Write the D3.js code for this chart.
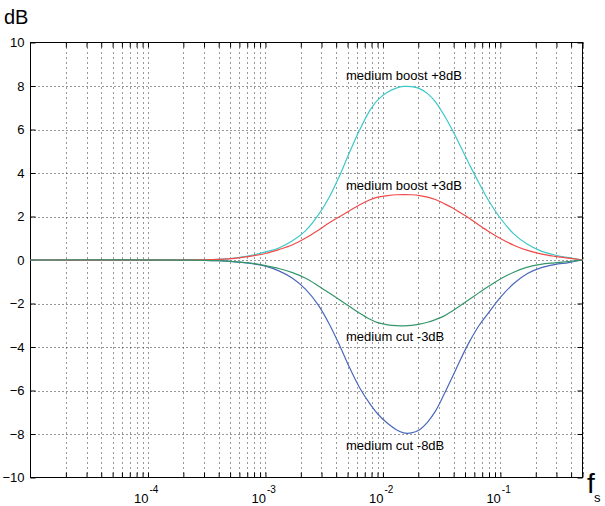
<!DOCTYPE html>
<html><head><meta charset="utf-8">
<script src="https://cdn.jsdelivr.net/npm/d3@7"></script>
<style>
html,body{margin:0;padding:0;background:#fff;}
svg{display:block;}
text{font-family:"Liberation Sans",Arial,Helvetica,sans-serif;fill:#000;}
</style></head>
<body>
<svg id="chart" width="605" height="506"></svg>
<script>
// ---- data ----
const freq = [1e-5, 4e-4, 6e-4, 8e-4, 1e-3, 1.3e-3, 1.7e-3, 2.2e-3, 2.8e-3, 3.5e-3, 4.3e-3, 5.2e-3, 6.3e-3, 7.6e-3, 9e-3, 1.1e-2, 1.3e-2, 1.5e-2, 1.75e-2, 2.05e-2, 2.4e-2, 2.8e-2, 3.3e-2, 3.9e-2, 4.6e-2, 5.5e-2, 6.6e-2, 8e-2, 0.1, 0.13, 0.17, 0.22, 0.29, 0.38, 0.5];
const boost8 = [0, 0.03, 0.12, 0.24, 0.37, 0.55, 0.88, 1.35, 2.05, 2.9, 3.9, 4.95, 5.95, 6.8, 7.35, 7.72, 7.9, 7.98, 7.97, 7.88, 7.65, 7.27, 6.68, 5.98, 5.2, 4.35, 3.52, 2.7, 1.92, 1.2, 0.72, 0.42, 0.23, 0.11, 0];
const boost3 = [0, 0.03, 0.1, 0.2, 0.3, 0.48, 0.7, 1.01, 1.36, 1.71, 2.0, 2.26, 2.53, 2.75, 2.89, 2.96, 3.0, 3.01, 3.0, 2.96, 2.89, 2.78, 2.6, 2.4, 2.16, 1.9, 1.6, 1.3, 0.99, 0.68, 0.44, 0.28, 0.17, 0.09, 0];
const cut3 = [0, -0.03, -0.1, -0.17, -0.26, -0.39, -0.58, -0.84, -1.18, -1.52, -1.84, -2.14, -2.44, -2.7, -2.88, -2.98, -3.02, -3.03, -3.01, -2.95, -2.86, -2.74, -2.58, -2.34, -2.08, -1.79, -1.5, -1.2, -0.87, -0.56, -0.33, -0.2, -0.13, -0.07, 0];
const cut8 = [0, -0.03, -0.1, -0.18, -0.28, -0.5, -0.84, -1.35, -2.05, -2.95, -3.95, -4.95, -5.85, -6.55, -7.07, -7.52, -7.8, -7.95, -7.95, -7.8, -7.45, -6.95, -6.2, -5.38, -4.55, -3.72, -3.0, -2.4, -1.72, -1.08, -0.62, -0.36, -0.21, -0.12, 0];
const seriesNames = ["medium cut -8dB", "medium boost +8dB", "medium boost +3dB", "medium cut -3dB"];
const seriesValues = [cut8, boost8, boost3, cut3];
const seriesColors = ["#4a68bb", "#3cc8c8", "#f04a4a", "#35966a"];
const yTicks = [-10, -8, -6, -4, -2, 0, 2, 4, 6, 8, 10];
const xMajor = [1e-4, 1e-3, 1e-2, 1e-1];
const xMajorExp = ["-4", "-3", "-2", "-1"];
const xMinorMult = [2, 3, 4, 5, 6, 7, 8, 9];
const xDecades = [1e-5, 1e-4, 1e-3, 1e-2, 1e-1];
const labelTexts = ["medium boost +8dB", "medium boost +3dB", "medium cut -3dB", "medium cut -8dB"];
const labelAnchorsDb = [8.28, 3.22, -3.72, -8.74];
const labelFreq = 4.85e-3;

// ---- layout ----
const L = 30.5, R = 582.5, T = 42.5, B = 477.5;
const svg = d3.select("#chart");
const x = d3.scaleLog().domain([1e-5, 0.5]).range([L, R]);
const y = d3.scaleLinear().domain([-10, 10]).range([B, T]);

let xTickVals = [];
xDecades.forEach(d => xMinorMult.forEach(m => { const v = d * m; if (v <= 0.5 + 1e-12) xTickVals.push(v); }));
xTickVals = xTickVals.concat(xMajor).sort((a, b) => a - b);

// grid
const grid = svg.append("g").attr("stroke", "#333").attr("stroke-width", 1);
xTickVals.forEach(v => {
  const px = Math.round(x(v)) + 0.5;
  grid.append("line").attr("x1", px).attr("x2", px).attr("y1", T).attr("y2", B)
    .attr("stroke-dasharray", "1,4");
});
yTicks.slice(1, -1).forEach(v => {
  const py = Math.round(y(v)) + 0.5;
  grid.append("line").attr("x1", L).attr("x2", R).attr("y1", py).attr("y2", py)
    .attr("stroke-dasharray", "1,3");
});

// axes (ticks inward on all four sides)
const fmtX = v => "";
const axB = svg.append("g").attr("transform", `translate(0,${B})`)
  .call(d3.axisBottom(x).tickValues(xTickVals).tickSizeInner(-5).tickSizeOuter(0).tickFormat(fmtX));
const axT = svg.append("g").attr("transform", `translate(0,${T})`)
  .call(d3.axisTop(x).tickValues(xTickVals).tickSizeInner(-5).tickSizeOuter(0).tickFormat(fmtX));
const axL = svg.append("g").attr("transform", `translate(${L},0)`)
  .call(d3.axisLeft(y).tickValues(yTicks).tickSizeInner(-5).tickSizeOuter(0).tickPadding(6).tickFormat(d3.format("d")));
const axR = svg.append("g").attr("transform", `translate(${R},0)`)
  .call(d3.axisRight(y).tickValues(yTicks).tickSizeInner(-5).tickSizeOuter(0).tickFormat(""));
[axB, axT, axL, axR].forEach(a => {
  a.select(".domain").remove();
  a.selectAll("line").attr("stroke", "#000");
});
axL.selectAll("text").attr("font-size", 13).attr("x", -6)
  .attr("font-family", "'Liberation Sans',Arial,sans-serif").attr("fill", "#000");

// x major labels with superscripts
xMajor.forEach((v, i) => {
  const t = svg.append("text").attr("x", x(v) - 14).attr("y", 503).attr("font-size", 13);
  t.append("tspan").text("10");
  t.append("tspan").attr("dy", -10).attr("dx", 1).attr("font-size", 10).text(xMajorExp[i]);
});

// frame
svg.append("rect").attr("x", L).attr("y", T).attr("width", R - L).attr("height", B - T)
  .attr("fill", "none").attr("stroke", "#000").attr("stroke-width", 1);

// curves
const line = d3.line().x(d => x(d[0])).y(d => y(d[1])).curve(d3.curveCatmullRom.alpha(0.5));
seriesValues.forEach((vals, i) => {
  svg.append("path").datum(freq.map((f, j) => [f, vals[j]]))
    .attr("d", line).attr("fill", "none").attr("stroke", seriesColors[i]).attr("stroke-width", 1.2);
});

// curve labels
labelTexts.forEach((s, i) => {
  svg.append("text").attr("x", x(labelFreq)).attr("y", y(labelAnchorsDb[i]))
    .attr("font-size", 13).text(s);
});

// axis titles
svg.append("text").attr("x", 4).attr("y", 24).attr("font-size", 20).text("dB");
svg.append("text").attr("x", 587).attr("y", 493).attr("font-size", 28).text("f");
svg.append("text").attr("x", 594).attr("y", 502).attr("font-size", 13).text("s");
</script>
</body></html>
